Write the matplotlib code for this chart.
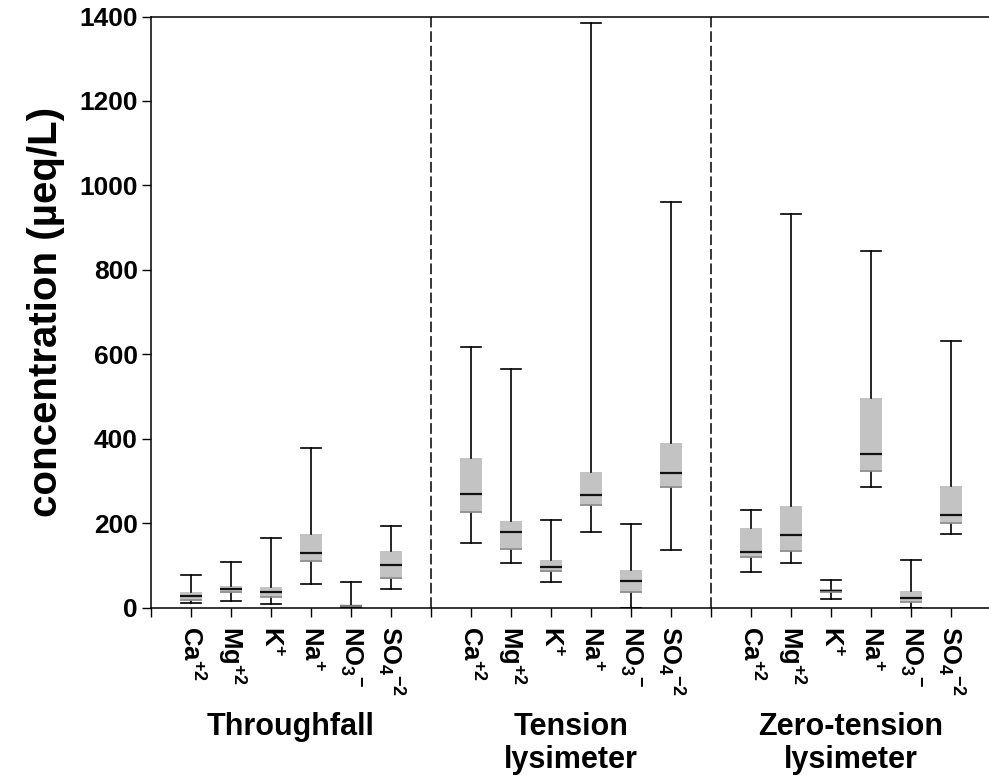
import matplotlib
matplotlib.use("Agg")
import matplotlib.pyplot as plt
from matplotlib.transforms import blended_transform_factory

plt.rcParams['font.family'] = ['Liberation Sans', 'DejaVu Sans']
plt.rcParams['font.weight'] = 'bold'
plt.rcParams['mathtext.fontset'] = 'custom'
plt.rcParams['mathtext.rm'] = 'Liberation Sans:bold'
plt.rcParams['mathtext.bf'] = 'Liberation Sans:bold'
plt.rcParams['mathtext.default'] = 'rm'

# ion labels and site groups
ions = ["Ca$^{+2}$", "Mg$^{+2}$", "K$^{+}$", "Na$^{+}$", "NO$_3$$^{-}$", "SO$_4$$^{-2}$"]
groups = ["Throughfall", "Tension\nlysimeter", "Zero-tension\nlysimeter"]

# box stats per ion: min, 25th, median, 75th, max  (ueq/L)
throughfall = [
    [10, 15, 27, 36, 77],
    [15, 35, 44, 50, 107],
    [8, 24, 36, 48, 164],
    [56, 107, 129, 174, 378],
    [0, 0.5, 3, 6, 61],
    [45, 68, 101, 133, 194],
]
tension = [
    [152, 225, 270, 353, 616],
    [105, 137, 179, 204, 566],
    [60, 85, 95, 113, 208],
    [180, 241, 267, 320, 1384],
    [0, 34, 63, 89, 198],
    [136, 284, 319, 390, 960],
]
zero_tension = [
    [83, 118, 131, 188, 231],
    [106, 132, 172, 240, 931],
    [19, 34, 40, 45, 65],
    [285, 321, 364, 496, 844],
    [0, 11, 22, 40, 113],
    [174, 198, 220, 287, 631],
]
all_groups = [throughfall, tension, zero_tension]

fig = plt.figure(figsize=(9.89, 7.78), dpi=100)
ax = fig.add_axes([151 / 989, 170.5 / 778, 840 / 989, 591 / 778])

stats, positions = [], []
for g, data in enumerate(all_groups):
    for i, (lo, q1, med, q3, hi) in enumerate(data):
        stats.append(dict(whislo=lo, q1=q1, med=med, q3=q3, whishi=hi, fliers=[]))
        positions.append(1 + 7 * g + i)

ax.bxp(stats, positions=positions, widths=0.56, capwidths=0.48,
       showfliers=False, patch_artist=True,
       boxprops=dict(facecolor='#c3c3c3', edgecolor='none'),
       whiskerprops=dict(color='black', linewidth=1.2),
       capprops=dict(color='black', linewidth=1.2),
       medianprops=dict(color='#111111', linewidth=1.6))

# darker grey line along the lower edge of each box
for p, s in zip(positions, stats):
    ax.hlines(s['q1'] + 2, p - 0.28, p + 0.28, color='#8e8e8e', linewidth=1.2, zorder=3)

# dashed dividers between sites
for xd in [7, 14]:
    ax.axvline(xd, color='black', linewidth=1.1, linestyle=(0, (7, 2.5)))

ax.set_xlim(0, 21)
ax.set_ylim(0, 1400)
ax.set_yticks(range(0, 1401, 200))
ax.tick_params(axis='y', labelsize=19, length=6.5, width=1, pad=3)

xt = list(range(0, 21))
xl = [''] * len(xt)
for p in positions:
    xl[p] = ions[(p - 1) % 7]
ax.set_xticks(xt)
ax.set_xticklabels(xl, rotation=270, fontsize=18.5, va='top', ha='center')
ax.tick_params(axis='x', length=6.5, width=1, pad=7)

for sp in ['left', 'top', 'bottom']:
    ax.spines[sp].set_linewidth(1.1)
ax.spines['right'].set_visible(False)

ax.set_ylabel("concentration (\u00b5eq/L)", fontsize=29, fontweight='bold', labelpad=10)

trans = blended_transform_factory(ax.transData, fig.transFigure)
for g, name in enumerate(groups):
    ax.text(3.5 + 7 * g, 66 / 778, name, transform=trans, ha='center', va='top',
            fontsize=22, fontweight='bold', linespacing=1.15)

fig.savefig("out.png", dpi=100)
